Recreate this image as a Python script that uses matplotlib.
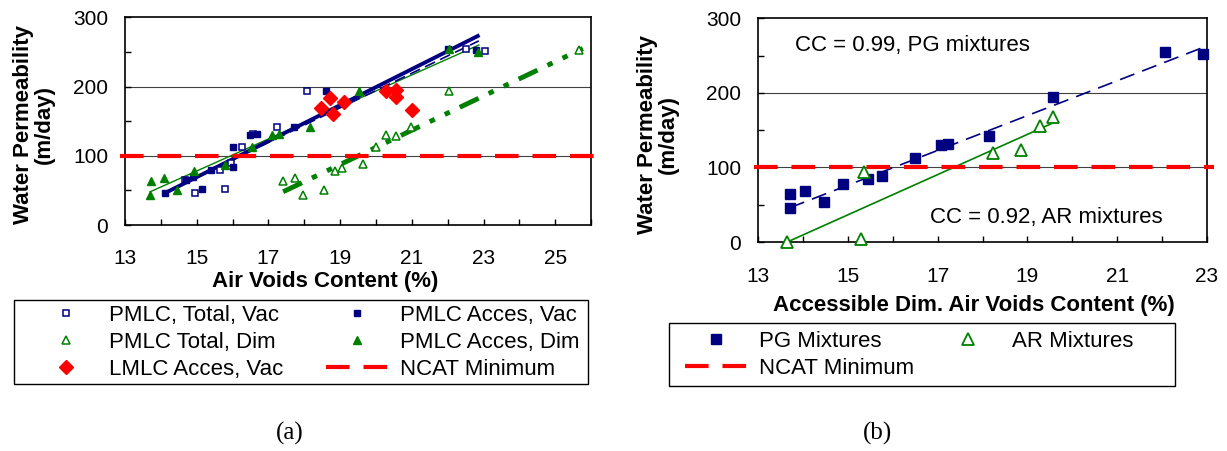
import numpy as np
import matplotlib
matplotlib.use("Agg")
from matplotlib import pyplot as plt
from matplotlib.lines import Line2D
from matplotlib.patches import Rectangle

plt.rcParams['font.family'] = ['Liberation Sans', 'DejaVu Sans']
plt.rcParams['lines.scale_dashes'] = False

NAVY = '#000080'
GREEN = '#008000'
RED = '#FF0000'
W, H = 1227, 451

# ---- panel (a) data: air voids (%) vs water permeability (m/day)
tot_vac_x = [14.67, 14.95, 15.65, 15.79, 15.97, 16.27, 16.57, 17.25, 18.09, 22.52, 23.03]
tot_vac_y = [65, 46, 79, 52, 89, 113, 132, 142, 194, 254, 252]
acc_vac_x = [14.11, 14.70, 14.90, 15.14, 15.41, 16.02, 16.02, 16.50, 16.67, 17.72, 18.62, 22.00, 22.80]
acc_vac_y = [46, 65, 70, 52, 79, 84, 113, 130, 132, 142, 194, 254, 253]
tot_dim_x = [17.41, 17.75, 17.97, 18.54, 18.87, 19.06, 19.64, 19.99, 20.27, 20.57, 20.99, 22.05, 25.67]
tot_dim_y = [63, 68, 43, 51, 78, 83, 88, 112, 130, 129, 141, 193, 253]
acc_dim_x = [13.70, 13.72, 14.09, 14.46, 14.93, 15.79, 16.55, 17.09, 17.29, 18.15, 19.52, 22.03, 22.86]
acc_dim_y = [43, 63, 68, 51, 78, 86, 113, 130, 132, 141, 193, 254, 250]
lmlc_x = [18.48, 18.73, 18.80, 19.10, 20.27, 20.57, 20.57, 21.01]
lmlc_y = [169, 183, 160, 178, 194, 195, 185, 166]

# trend lines (end points)
fit_acc_vac_x, fit_acc_vac_y = [14.11, 22.84], [46, 273]
fit_tot_vac_x, fit_tot_vac_y = [14.67, 22.87], [61, 266]
fit_acc_dim_x, fit_acc_dim_y = [13.70, 22.87], [48, 260]
fit_tot_dim_x, fit_tot_dim_y = [17.41, 25.77], [48, 255]

# ---- panel (b) data: accessible dim. air voids (%) vs permeability
pg_x = [13.71, 13.71, 14.05, 14.48, 14.89, 15.46, 15.76, 16.49, 17.08, 17.24, 18.15, 19.56, 22.06, 22.90]
pg_y = [64, 45, 69, 53, 78, 84, 89, 112, 130, 132, 142, 194, 255, 252]
ar_x = [13.65, 15.29, 15.35, 18.24, 18.86, 19.27, 19.58]
ar_y = [0, 4, 94, 119, 123, 156, 167]
fit_pg_x, fit_pg_y = [13.71, 23.0], [46, 263]
fit_ar_x, fit_ar_y = [13.65, 19.58], [0, 160]

ncat = 100

fig = plt.figure(figsize=(12.27, 4.51), dpi=100)
ax1 = fig.add_axes([0.1019, 0.5011, 0.3798, 0.4605])
ax2 = fig.add_axes([0.6178, 0.4634, 0.3659, 0.4960])


def style_axes(ax, xmax, xpad):
    ax.set_xlim(13, xmax)
    ax.set_ylim(0, 300)
    ax.set_xticks(np.arange(13, xmax + 0.1, 2))
    ax.set_xticks(np.arange(13, xmax + 0.1, 1), minor=True)
    ax.set_yticks([0, 100, 200, 300])
    ax.set_yticks([50, 150, 250], minor=True)
    ax.tick_params(which='both', direction='in', length=4, width=1,
                   labelsize=15, colors='black')
    ax.tick_params(axis='y', which='both', pad=12)
    ax.tick_params(axis='x', which='both', pad=xpad)
    for s in ax.spines.values():
        s.set_linewidth(1.2)
    for yv in (100, 200):
        ax.axhline(yv, color='#404040', lw=0.8, zorder=0)


style_axes(ax1, 26, 17)
style_axes(ax2, 23, 18)

# panel (a)
ax1.plot(fit_tot_dim_x, fit_tot_dim_y, color=GREEN, lw=3.5,
         dashes=(15, 8, 4, 8, 4, 8), zorder=2)
ax1.plot(fit_acc_dim_x, fit_acc_dim_y, color=GREEN, lw=1.0, zorder=2)
ax1.plot(fit_tot_vac_x, fit_tot_vac_y, color=NAVY, lw=1.2, dashes=(8, 4), zorder=2)
ax1.plot(fit_acc_vac_x, fit_acc_vac_y, color=NAVY, lw=2.8, zorder=2)
ax1.plot([12.85, 26.15], [ncat, ncat], color=RED, lw=3, dashes=(17, 10),
         clip_on=False, zorder=3)
h_tv, = ax1.plot(tot_vac_x, tot_vac_y, 's', ms=4.5, mfc='white', mec=NAVY, mew=1.1, zorder=4)
h_av, = ax1.plot(acc_vac_x, acc_vac_y, 's', ms=4.5, color=NAVY, zorder=4)
h_td, = ax1.plot(tot_dim_x, tot_dim_y, '^', ms=5.5, mfc='white', mec=GREEN, mew=1.1, zorder=4)
h_ad, = ax1.plot(acc_dim_x, acc_dim_y, '^', ms=5.5, color=GREEN, zorder=4)
h_lm, = ax1.plot(lmlc_x, lmlc_y, 'D', ms=7, color=RED, zorder=4)
h_nc = Line2D([], [], color=RED, lw=3, dashes=(17, 10))

# panel (b)
ax2.plot(fit_pg_x, fit_pg_y, color=NAVY, lw=1.2, dashes=(11, 6), zorder=2)
ax2.plot(fit_ar_x, fit_ar_y, color=GREEN, lw=1.2, zorder=2)
ax2.plot([12.9, 23.15], [ncat, ncat], color=RED, lw=3, dashes=(17, 10),
         clip_on=False, zorder=3)
h_pg, = ax2.plot(pg_x, pg_y, 's', ms=7, color=NAVY, zorder=4, clip_on=False)
h_ar, = ax2.plot(ar_x, ar_y, '^', ms=8, mfc='white', mec=GREEN, mew=1.3, zorder=4,
                 clip_on=False)
ax2.text(13.82, 263, 'CC = 0.99, PG mixtures', fontsize=16, va='center', ha='left')
ax2.text(16.83, 33, 'CC = 0.92, AR mixtures', fontsize=16, va='center', ha='left')

# axis titles
fig.text(325 / W, 1 - 282 / H, 'Air Voids Content (%)', fontsize=16,
         fontweight='bold', ha='center', va='center')
fig.text(974 / W, 1 - 305 / H, 'Accessible Dim. Air Voids Content (%)',
         fontsize=16, fontweight='bold', ha='center', va='center')
fig.text(34 / W, 1 - 124 / H, 'Water Permeability\n(m/day)', fontsize=16,
         fontweight='bold', ha='center', va='center', rotation=90, linespacing=1.0)
fig.text(658 / W, 1 - 134 / H, 'Water Permeability\n(m/day)', fontsize=16,
         fontweight='bold', ha='center', va='center', rotation=90, linespacing=1.0)

# legends (frame drawn separately so the padding matches the original)
leg_kw = dict(ncol=2, fontsize=16, frameon=False, mode='expand',
              loc='upper left', bbox_transform=fig.transFigure, handlelength=2.8,
              handletextpad=0.55, labelspacing=0.27, borderpad=0, borderaxespad=0,
              numpoints=1)
fig.legend([h_tv, h_td, h_lm, h_av, h_ad, h_nc],
           ['PMLC, Total, Vac', 'PMLC Total, Dim', 'LMLC Acces, Vac',
            'PMLC Acces, Vac', 'PMLC Acces, Dim', 'NCAT Minimum'],
           bbox_to_anchor=(35 / W, 1 - 385 / H, 545 / W, 80 / H), **leg_kw)
fig.legend([h_pg, h_nc, h_ar],
           ['PG Mixtures', 'NCAT Minimum', 'AR Mixtures'],
           bbox_to_anchor=(685 / W, 1 - 385 / H, 448 / W, 54 / H), **leg_kw)
for x0, y0, x1, y1 in [(14, 300, 588, 384), (669, 323, 1175, 386)]:
    fig.add_artist(Rectangle((x0 / W, 1 - y1 / H), (x1 - x0) / W, (y1 - y0) / H,
                             transform=fig.transFigure, fill=False,
                             ec='black', lw=1.0))

fig.text(290 / W, 1 - 433 / H, '(a)', fontsize=18, family='Liberation Serif',
         ha='center', va='center')
fig.text(878 / W, 1 - 433 / H, '(b)', fontsize=18, family='Liberation Serif',
         ha='center', va='center')

fig.savefig('out.png', dpi=100)
